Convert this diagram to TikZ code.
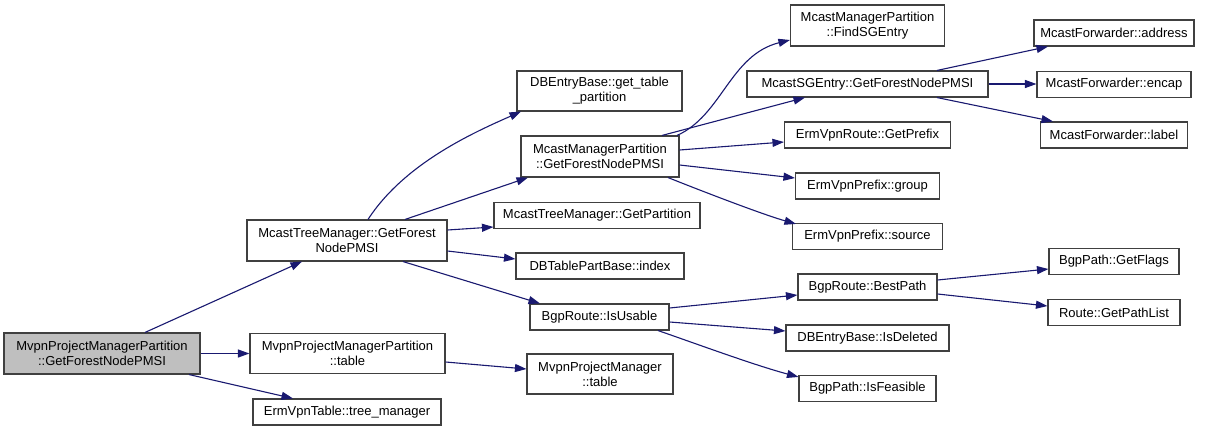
\documentclass[tikz,border=0pt]{standalone}
\usepackage{fontspec}
\setmainfont{Liberation Sans}
\usetikzlibrary{arrows.meta,calc}
\definecolor{edgeblue}{RGB}{25,25,112}
\definecolor{boxline}{RGB}{64,64,64}
\definecolor{rootfill}{RGB}{191,191,191}
\begin{document}
\begin{tikzpicture}[x=1pt,y=-1pt,
  fn/.style={draw=boxline, line width=1.1pt, fill=white, inner sep=0pt, align=center,
    font=\fontsize{13}{15}\selectfont},
  rootfn/.style={fn, fill=rootfill},
  call/.style={draw=edgeblue, line width=1.1pt, -{Triangle[length=11.5pt,width=8pt]}, edgeblue}]
\useasboundingbox (0,0) rectangle (1216,431);
\fill[white] (0,0) rectangle (1216,431);
% rank 0
\node[rootfn, minimum width=196, minimum height=41] (root) at (102,353.5) {MvpnProjectManagerPartition\\::GetForestNodePMSI};
% rank 1
\node[fn, minimum width=200, minimum height=41] (mtm) at (347,240.5) {McastTreeManager::GetForest\\NodePMSI};
\node[fn, minimum width=195, minimum height=40] (mpt) at (347.5,353.5) {MvpnProjectManagerPartition\\::table};
\node[fn, minimum width=188, minimum height=26] (etm) at (347,412) {ErmVpnTable::tree\_manager};
% rank 2
\node[fn, minimum width=165, minimum height=40] (dbgtp) at (599.5,91) {DBEntryBase::get\_table\\\_partition};
\node[fn, minimum width=158, minimum height=41] (mmp) at (600,156.5) {McastManagerPartition\\::GetForestNodePMSI};
\node[fn, minimum width=206, minimum height=26] (mtmgp) at (597,215.5) {McastTreeManager::GetPartition};
\node[fn, minimum width=168, minimum height=26] (dbi) at (600,266) {DBTablePartBase::index};
\node[fn, minimum width=139, minimum height=26] (bru) at (599.5,317) {BgpRoute::IsUsable};
\node[fn, minimum width=146, minimum height=40] (mpm) at (600,374) {MvpnProjectManager\\::table};
% rank 3
\node[fn, minimum width=154, minimum height=41] (mmf) at (867.5,25.5) {McastManagerPartition\\::FindSGEntry};
\node[fn, minimum width=241, minimum height=26] (msg) at (867.5,84) {McastSGEntry::GetForestNodePMSI};
\node[fn, minimum width=166, minimum height=26] (evgp) at (867.5,135) {ErmVpnRoute::GetPrefix};
\node[fn, minimum width=144, minimum height=26] (evg) at (867.5,186) {ErmVpnPrefix::group};
\node[fn, minimum width=150, minimum height=26] (evs) at (867.5,236.5) {ErmVpnPrefix::source};
\node[fn, minimum width=139, minimum height=26] (bbp) at (867.5,287) {BgpRoute::BestPath};
\node[fn, minimum width=163, minimum height=26] (dbid) at (867.5,338) {DBEntryBase::IsDeleted};
\node[fn, minimum width=137, minimum height=26] (bif) at (867.5,388.5) {BgpPath::IsFeasible};
% rank 4
\node[fn, minimum width=160, minimum height=26] (mfa) at (1114,33) {McastForwarder::address};
\node[fn, minimum width=154, minimum height=26] (mfe) at (1114,84.5) {McastForwarder::encap};
\node[fn, minimum width=147, minimum height=26] (mfl) at (1114,135) {McastForwarder::label};
\node[fn, minimum width=130, minimum height=26] (bgf) at (1114,261.5) {BgpPath::GetFlags};
\node[fn, minimum width=132, minimum height=26] (rgpl) at (1114,312.5) {Route::GetPathList};
% edges from root
\draw[call] ($(root.north)+(43,0)$) -- ($(mtm.south)+(-45,0)$);
\draw[call] (root.east) -- (root.east -| mpt.west);
\draw[call] ($(root.south)+(87,0)$) -- ($(etm.north)+(-54,0)$);
% edges from McastTreeManager::GetForestNodePMSI
\draw[call] ($(mtm.north)+(21,0)$) .. controls +(37,-57) and +(-45,20) .. ($(dbgtp.south)+(-78.5,0)$);
\draw[call] ($(mtm.north)+(58,0)$) -- ($(mmp.south)+(-72,0)$);
\draw[call] ($(mtm.east)+(0,-10.5)$) -- ($(mtmgp.west)+(0,11.5)$);
\draw[call] ($(mtm.east)+(0,10.5)$) -- ($(dbi.west)+(0,-7)$);
\draw[call] ($(mtm.south)+(56,0)$) -- ($(bru.north)+(-59.5,0)$);
% edge from MvpnProjectManagerPartition::table
\draw[call] ($(mpt.east)+(0,8.5)$) -- ($(mpm.west)+(0,-5)$);
% edges from McastManagerPartition::GetForestNodePMSI
\draw[call] ($(mmp.north)+(77,0)$) .. controls +(45,-20) and +(-60,15) .. ($(mmf.west)+(0,14.5)$);
\draw[call] ($(mmp.north)+(62,0)$) -- ($(msg.south)+(-62.5,0)$);
\draw[call] ($(mmp.east)+(0,-6.5)$) -- ($(evgp.west)+(0,7)$);
\draw[call] ($(mmp.east)+(0,8.5)$) -- ($(evg.west)+(0,-8)$);
\draw[call] ($(mmp.south)+(68,0)$) .. controls +(30,12) and +(-35,-10) .. ($(evs.north west)+(4,1)$);
% edges from McastSGEntry::GetForestNodePMSI
\draw[call] ($(msg.north)+(69.5,0)$) -- ($(mfa.south)+(-66,0)$);
\draw[call] (msg.east) -- (msg.east -| mfe.west);
\draw[call] ($(msg.south)+(69.5,0)$) -- ($(mfl.north)+(-61,0)$);
% edges from BgpRoute::IsUsable
\draw[call] ($(bru.east)+(0,-9)$) -- ($(bbp.west)+(0,8)$);
\draw[call] ($(bru.east)+(0,5)$) -- ($(dbid.west)+(0,-7)$);
\draw[call] ($(bru.south)+(58.5,0)$) .. controls +(35,12) and +(-45,-12) .. ($(bif.north west)+(0,2)$);
% edges from BgpRoute::BestPath
\draw[call] ($(bbp.east)+(0,-7)$) -- ($(bgf.west)+(0,7.5)$);
\draw[call] ($(bbp.east)+(0,7)$) -- ($(rgpl.west)+(0,-6.5)$);
\end{tikzpicture}
\end{document}
